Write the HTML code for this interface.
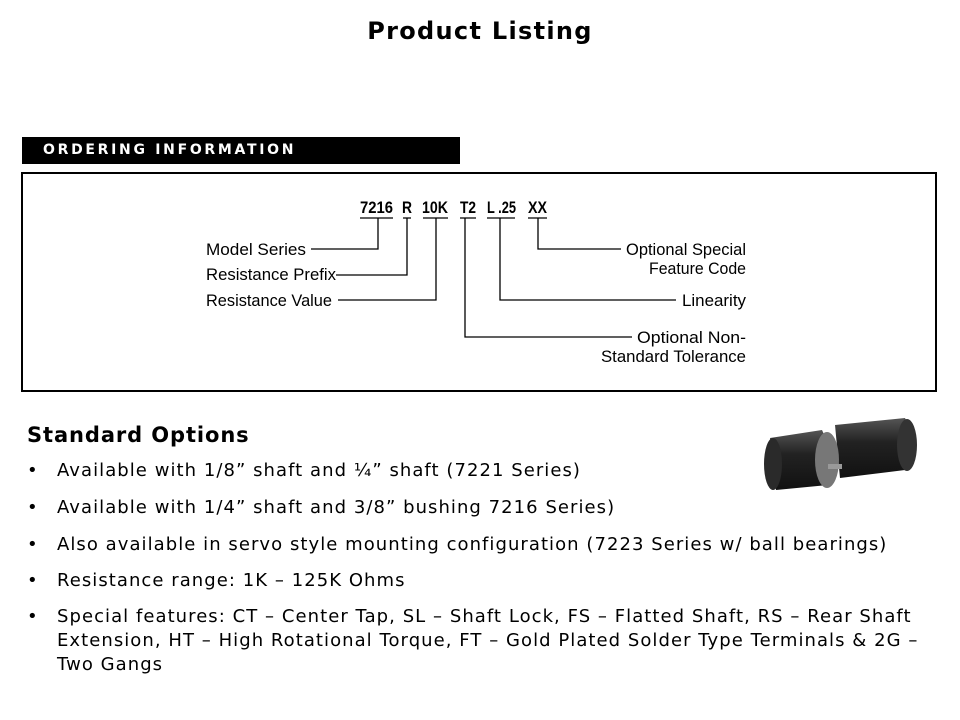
<!DOCTYPE html>
<html><head><style>
body{margin:0;width:960px;height:720px;background:#fff;position:relative;overflow:hidden;font-family:"DejaVu Sans","Liberation Sans",sans-serif;}
.t{position:absolute;white-space:nowrap;color:#000;}
</style></head><body>
<div class="t" style="left:0;width:960px;text-align:center;top:17px;font-size:24px;font-weight:bold;letter-spacing:1.3px;">Product Listing</div>
<div style="position:absolute;left:22px;top:137px;width:438px;height:27px;background:#000;"></div>
<div class="t" style="left:43px;top:142px;font-size:14px;font-weight:bold;color:#fff;letter-spacing:2.7px;">ORDERING INFORMATION</div>
<div style="position:absolute;left:21px;top:172px;width:912px;height:216px;border:2px solid #000;"></div>
<svg style="position:absolute;left:0;top:0" width="960" height="720">
<g font-family="Liberation Sans Narrow, Liberation Sans, sans-serif" font-size="17" fill="#000">
<g font-weight="bold">
<text x="360" y="213" textLength="33" lengthAdjust="spacingAndGlyphs">7216</text>
<text x="402" y="213" textLength="10" lengthAdjust="spacingAndGlyphs">R</text>
<text x="422" y="213" textLength="26" lengthAdjust="spacingAndGlyphs">10K</text>
<text x="460" y="213" textLength="16" lengthAdjust="spacingAndGlyphs">T2</text>
<text x="487" y="213" textLength="29" lengthAdjust="spacingAndGlyphs">L .25</text>
<text x="528" y="213" textLength="19" lengthAdjust="spacingAndGlyphs">XX</text>
</g>
<text x="206" y="255" textLength="100" lengthAdjust="spacingAndGlyphs">Model Series</text>
<text x="206" y="280" textLength="130" lengthAdjust="spacingAndGlyphs">Resistance Prefix</text>
<text x="206" y="306" textLength="126" lengthAdjust="spacingAndGlyphs">Resistance Value</text>
<text x="626" y="255" textLength="120" lengthAdjust="spacingAndGlyphs">Optional Special</text>
<text x="649" y="274" textLength="97" lengthAdjust="spacingAndGlyphs">Feature Code</text>
<text x="682" y="306" textLength="64" lengthAdjust="spacingAndGlyphs">Linearity</text>
<text x="637" y="343" textLength="109" lengthAdjust="spacingAndGlyphs">Optional  Non-</text>
<text x="601" y="362" textLength="145" lengthAdjust="spacingAndGlyphs">Standard Tolerance</text>
</g>
<g stroke="#000" stroke-width="1.3" fill="none">
<path d="M360 218H393M403 218H411M423 218H448M460 218H476M487 218H515M528 218H547"/>
<path d="M378 218V249H311"/>
<path d="M407 218V275H336"/>
<path d="M436 218V300H338"/>
<path d="M465 218V337H632"/>
<path d="M500 218V300H676"/>
<path d="M538 218V249H621"/>
</g>
<g>
<defs><linearGradient id="c" x1="0" y1="0" x2="0" y2="1"><stop offset="0" stop-color="#555"/><stop offset="0.4" stop-color="#222"/><stop offset="1" stop-color="#111"/></linearGradient></defs>
<path d="M835 425 L905 418 Q918 440 905 470 L840 478 Z" fill="url(#c)"/>
<ellipse cx="907" cy="445" rx="10" ry="26" fill="#333"/>
<path d="M770 438 L822 430 Q835 455 828 485 L776 490 Z" fill="url(#c)"/>
<ellipse cx="773" cy="464" rx="9" ry="26" fill="#2a2a2a"/>
<ellipse cx="827" cy="460" rx="12" ry="28" fill="#777"/>
<rect x="828" y="464" width="14" height="5" fill="#999"/>
</g>
</svg>
<div class="t" style="left:27px;top:423px;font-size:21px;font-weight:bold;letter-spacing:0.9px;">Standard Options</div>
<div style="position:absolute;left:27px;top:459px;font-size:18px;line-height:24px;width:925px;letter-spacing:1.05px;">
<div style="position:relative;padding-left:30px;margin-bottom:13px;"><span style="position:absolute;left:0">•</span>Available with 1/8” shaft and ¼”  shaft (7221 Series)</div>
<div style="position:relative;padding-left:30px;margin-bottom:13px;"><span style="position:absolute;left:0">•</span>Available with 1/4”  shaft and 3/8” bushing 7216 Series)</div>
<div style="position:relative;padding-left:30px;margin-bottom:12px;"><span style="position:absolute;left:0">•</span>Also available in servo style mounting configuration (7223 Series w/ ball bearings)</div>
<div style="position:relative;padding-left:30px;margin-bottom:12px;"><span style="position:absolute;left:0">•</span>Resistance range: 1K – 125K Ohms</div>
<div style="position:relative;padding-left:30px;white-space:nowrap;"><span style="position:absolute;left:0">•</span>Special features:  CT – Center Tap, SL – Shaft Lock, FS – Flatted Shaft, RS – Rear Shaft<br>Extension, HT – High Rotational Torque, FT – Gold Plated Solder Type Terminals &amp; 2G –<br>Two Gangs</div>
</div>
</body></html>
